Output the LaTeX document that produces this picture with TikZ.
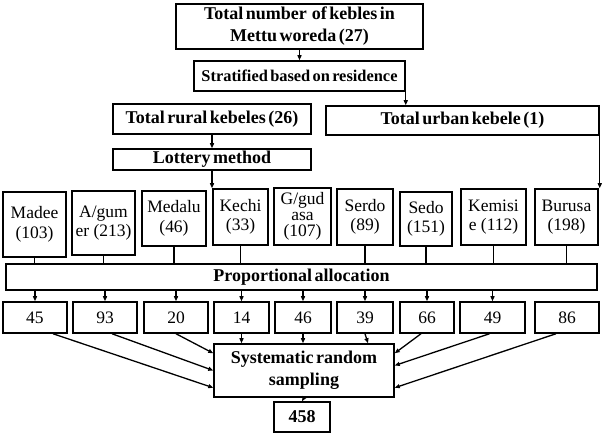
\documentclass[tikz,border=0pt]{standalone}
\usepackage{fontspec}
\setmainfont{Liberation Serif}
\usetikzlibrary{arrows.meta,calc}
\newcommand\mybox[7]{\node[#1, minimum width={(#5-#3)*1pt}, minimum height={(#6-#4)*1pt}] (#2) at ({(#3+#5)/2},{-(#4+#6)/2}) {#7};}
\newcommand\tightspaces{\spaceskip=0.14em plus 0.02em\relax}
\tikzset{
  box/.style={draw, line width=1.5pt, inner sep=0pt, align=center},
  bbox/.style={box, font=\fontsize{18}{22}\selectfont\bfseries, execute at begin node=\tightspaces},
  rbox/.style={box, font=\fontsize{17.5}{19.5}\selectfont},
  link/.style={line width=1.3pt},
  arr/.style={link, -{Triangle[length=5pt,width=4pt]}}
}
\begin{document}
\begin{tikzpicture}[x=1pt,y=1pt]
\useasboundingbox (0,0) rectangle (606,-435);
% top part
\mybox{bbox}{top}{176}{4}{423}{49}{Total number\ \ of kebles in\\Mettu woreda (27)}
\mybox{bbox,font=\fontsize{16.4}{22}\selectfont\bfseries}{strat}{194}{61}{405}{91}{Stratified based on residence}
\mybox{bbox}{rural}{113}{104}{311}{134}{Total rural kebeles (26)}
\mybox{bbox}{urban}{326}{106}{599}{135}{Total urban kebele (1)}
\mybox{bbox}{lottery}{113}{149}{311}{170}{Lottery method}
% kebeles
\mybox{rbox}{madee}{3}{192}{66}{257}{Madee\\(103)}
\mybox{rbox}{agumer}{72}{191}{135}{255}{A/gum\\er (213)}
\mybox{rbox}{medalu}{142}{191}{206}{246}{Medalu\\(46)}
\mybox{rbox}{kechi}{213}{189}{268}{245}{Kechi\\(33)}
\mybox{rbox}{ggudasa}{274}{188}{331}{245}{\raisebox{-7pt}{\shortstack{G/gud\\[1pt]asa\\[1pt](107)}}}
\mybox{rbox}{serdo}{337}{189}{393}{245}{Serdo\\(89)}
\mybox{rbox}{sedo}{400}{192}{452}{246}{Sedo\\(151)}
\mybox{rbox}{kemise}{461}{189}{526}{245}{Kemisi\\e (112)}
\mybox{rbox}{burusa}{535}{189}{598}{245}{Burusa\\(198)}
% proportional allocation
\mybox{bbox}{prop}{6}{264}{597}{290}{Proportional allocation}
% numbers
\mybox{rbox}{n45}{3}{302}{67}{333}{45}
\mybox{rbox}{n93}{73}{302}{137}{333}{93}
\mybox{rbox}{n20}{144}{302}{208}{333}{20}
\mybox{rbox}{n14}{214}{302}{269}{333}{14}
\mybox{rbox}{n46}{275}{302}{331}{333}{46}
\mybox{rbox}{n39}{337}{302}{393}{333}{39}
\mybox{rbox}{n66}{400}{302}{454}{333}{66}
\mybox{rbox}{n49}{460}{302}{525}{333}{49}
\mybox{rbox}{n86}{535}{302}{599}{333}{86}
% systematic
\mybox{bbox}{sys}{214}{344}{394}{397}{Systematic random\\sampling}
\mybox{bbox}{total}{274}{402}{330}{432}{458}
% connectors top
\draw[arr] (top.south) -- (strat.north);
\draw[arr] (strat.south east) -- (strat.south east |- urban.north);
\draw[arr] (rural.south) -- (lottery.north);
\draw[arr] (lottery.south) -- (lottery.south |- kechi.north);
\draw[arr] (urban.south east) -- (urban.south east |- burusa.north);
% kebeles to proportional
\foreach \k in {madee,agumer,medalu,kechi,serdo,sedo,kemise,burusa}
  \draw[link] (\k.south) -- (\k.south |- prop.north);
% proportional to numbers
\foreach \n in {n45,n93,n20,n14,n46,n39,n66,n49}
  \draw[arr] (\n.north |- prop.south) -- (\n.north);
% numbers to systematic
\draw[arr] ([xshift=18pt]n45.south) -- ([yshift=10pt]sys.south west);
\draw[arr] ([xshift=7pt]n93.south) -- (sys.west);
\draw[arr] (n20.south) -- ([yshift=-10pt]sys.north west);
\draw[arr] (n14.south) -- (n14.south |- sys.north);
\draw[arr] (n46.south) -- (n46.south |- sys.north);
\draw[arr] (n39.south) -- ([xshift=3pt]n39.south |- sys.north);
\draw[arr] ([xshift=-6pt]n66.south) -- ([yshift=-10pt]sys.north east);
\draw[arr] ([xshift=-3pt]n49.south) -- ([yshift=5pt]sys.east);
\draw[arr] ([xshift=-11pt]n86.south) -- ([yshift=10pt]sys.south east);
\draw[arr] (sys.south) -- (total.north);
\end{tikzpicture}
\end{document}
